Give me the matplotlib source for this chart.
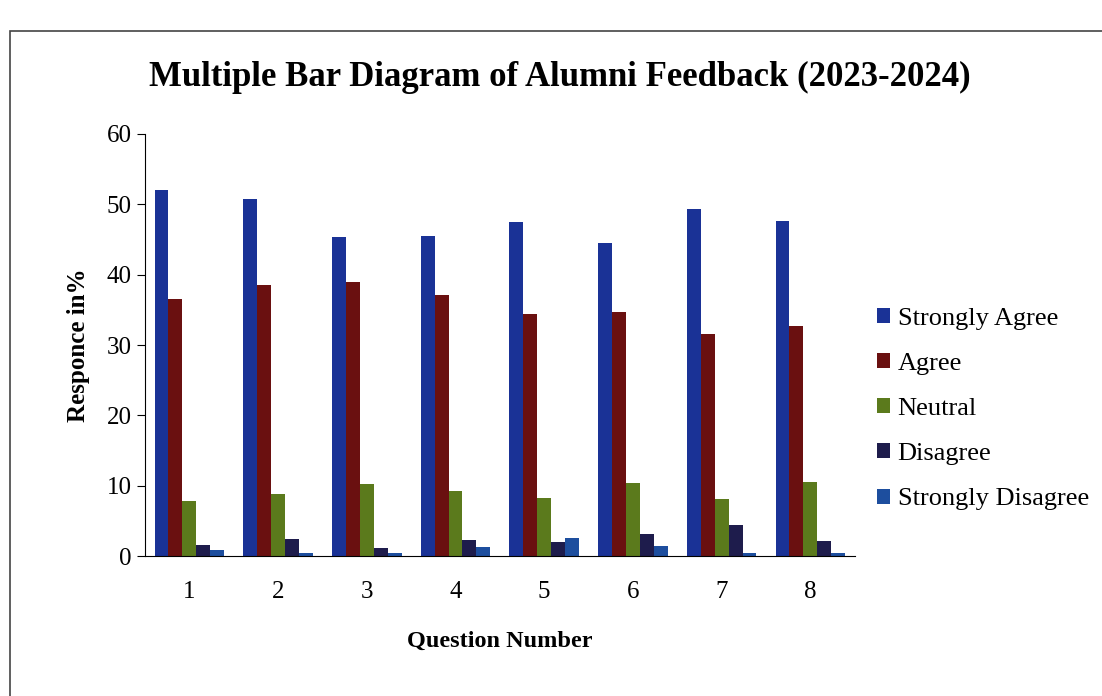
import numpy as np
import matplotlib
matplotlib.use("Agg")
import matplotlib.pyplot as plt
from matplotlib.patches import Rectangle

questions = ["1", "2", "3", "4", "5", "6", "7", "8"]
strongly_agree = [52.0, 50.8, 45.4, 45.5, 47.5, 44.5, 49.3, 47.7]
agree = [36.6, 38.5, 39.0, 37.1, 34.4, 34.7, 31.6, 32.7]
neutral = [7.9, 8.8, 10.3, 9.2, 8.3, 10.4, 8.1, 10.6]
disagree = [1.6, 2.5, 1.2, 2.3, 2.0, 3.1, 4.4, 2.1]
strongly_disagree = [0.8, 0.4, 0.5, 1.3, 2.6, 1.5, 0.5, 0.5]

series = [
    ("Strongly Agree", strongly_agree, "#1a3296"),
    ("Agree", agree, "#6a1010"),
    ("Neutral", neutral, "#5b7a1c"),
    ("Disagree", disagree, "#1e1c4c"),
    ("Strongly Disagree", strongly_disagree, "#1d4e9e"),
]

plt.rcParams['font.family'] = ['Liberation Serif', 'DejaVu Serif']

fig = plt.figure(figsize=(11.02, 6.96), dpi=100)
ax = fig.add_axes([0.1316, 0.201, 0.644, 0.6065])

# outer frame of the printed chart
fig.patches.append(Rectangle((0.009, -0.05), 1.05, 1.005, transform=fig.transFigure,
                             fill=False, edgecolor="#444444", linewidth=1.2))

x = np.arange(1, len(questions) + 1)
w = 0.157
for i, (name, vals, col) in enumerate(series):
    ax.bar(x + (i - 2) * w, vals, width=w, color=col, label=name)

ax.set_xlim(0.5, 8.5)
ax.set_ylim(0, 60)
ax.set_yticks(range(0, 61, 10))
ax.set_xticks(x)
ax.set_xticklabels(questions)
ax.tick_params(axis='x', length=0, pad=18, labelsize=18)
ax.tick_params(axis='y', length=6, labelsize=18, direction='out')
for s in ["top", "right"]:
    ax.spines[s].set_visible(False)

ax.set_ylabel("Responce in%", fontsize=18, fontweight='bold', labelpad=12)
ax.set_xlabel("Question Number", fontsize=17.5, fontweight='bold', labelpad=20)
fig.text(0.508, 0.888, "Multiple Bar Diagram of Alumni Feedback (2023-2024)",
         ha='center', va='center', fontsize=25, fontweight='bold')

fig.legend(loc='center left', bbox_to_anchor=(0.7745, 0.412), frameon=False,
           fontsize=19, labelspacing=0.875, handlelength=0.5, handleheight=0.5,
           handletextpad=0.27)

fig.savefig("out.png", dpi=100)
